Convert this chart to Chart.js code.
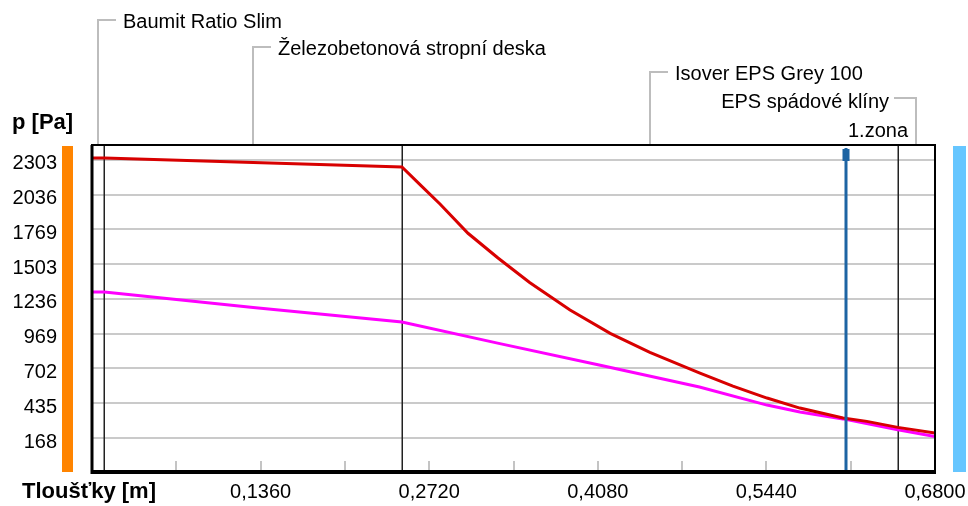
<!DOCTYPE html>
<html><head><meta charset="utf-8">
<script src="https://cdn.jsdelivr.net/npm/chart.js@4/dist/chart.umd.min.js"></script>
<style>html,body{margin:0;padding:0;background:#fff;overflow:hidden}#wrap{width:968px;height:506px;position:relative}</style>
</head><body><div id="wrap"><canvas id="c" width="968" height="506"></canvas></div>
<script>
// Layer boundaries [m] and layer names
const layerEdges = [0, 0.01, 0.25, 0.65, 0.68];
const layerNames = ['Baumit Ratio Slim', 'Železobetonová stropní deska', 'Isover EPS Grey 100', 'EPS spádové klíny'];
// Condensation zone markers
const zonePositions = [0.608];
const zoneNames = ['1.zona'];
// Axis ticks
const yTicks = [168, 435, 702, 969, 1236, 1503, 1769, 2036, 2303];
const xTicks = [0.068, 0.136, 0.204, 0.272, 0.34, 0.408, 0.476, 0.544, 0.612, 0.68];
const xLabelled = [0.136, 0.272, 0.408, 0.544, 0.68];
// Saturated vapour pressure [Pa]
const psX = [0, 0.01, 0.13, 0.25, 0.265, 0.2807, 0.3033, 0.3275, 0.353, 0.3856, 0.418, 0.45, 0.4904, 0.517, 0.5445, 0.571, 0.6058, 0.625, 0.65, 0.68];
const psY = [2318, 2318, 2283, 2249, 2110, 1965, 1740, 1550, 1362, 1151, 972, 826, 667, 567, 475, 398, 322, 296, 250, 206];
// Partial vapour pressure [Pa]
const pX = [0, 0.01, 0.13, 0.25, 0.329, 0.41, 0.49, 0.5445, 0.571, 0.6058, 0.65, 0.68];
const pY = [1289, 1289, 1170, 1059, 893, 727, 560, 421, 368, 315, 232, 180];

const FONT = '"Liberation Sans", Arial, sans-serif';
const toPts = (xs, ys) => xs.map((x, i) => ({ x, y: ys[i] }));

const decor = {
  id: 'decor',
  beforeDraw(chart) {
    const { ctx, chartArea: a } = chart;
    ctx.save();
    ctx.fillStyle = '#fff';
    ctx.fillRect(0, 0, chart.width, chart.height);
    // interior / exterior colour bars
    ctx.fillStyle = '#ff8400';
    ctx.fillRect(a.left - 30, a.top, 11, a.bottom - a.top + 1);
    ctx.fillStyle = '#66c6ff';
    ctx.fillRect(a.right + 18, a.top, 13, a.bottom - a.top + 1);
    ctx.restore();
  },
  beforeDatasetsDraw(chart) {
    const { ctx, chartArea: a, scales: { x } } = chart;
    ctx.save();
    // minor ticks along the bottom
    ctx.strokeStyle = '#c4c4c4';
    ctx.lineWidth = 2;
    xTicks.forEach(v => {
      const px = Math.round(x.getPixelForValue(v));
      ctx.beginPath(); ctx.moveTo(px, a.bottom - 10); ctx.lineTo(px, a.bottom); ctx.stroke();
    });
    // layer boundaries
    ctx.strokeStyle = '#222';
    ctx.lineWidth = 1.5;
    layerEdges.slice(1, -1).forEach(v => {
      const px = Math.round(x.getPixelForValue(v)) + 0.25;
      ctx.beginPath(); ctx.moveTo(px, a.top); ctx.lineTo(px, a.bottom); ctx.stroke();
    });
    ctx.restore();
  },
  afterDatasetsDraw(chart) {
    const { ctx, chartArea: a, scales: { x } } = chart;
    ctx.save();
    // condensation zone markers
    zonePositions.forEach((v, i) => {
      const px = Math.round(x.getPixelForValue(v));
      ctx.fillStyle = '#1d64a3';
      ctx.fillRect(px - 1.5, a.top + 2, 3, a.bottom - a.top - 2);
      ctx.fillRect(px - 3.5, a.top + 3, 7, 12);
      ctx.fillStyle = '#000';
      ctx.font = '20px ' + FONT;
      ctx.textAlign = 'left';
      ctx.textBaseline = 'middle';
      ctx.fillText(zoneNames[i], px + 2, a.top - 15);
    });
    // frame
    ctx.strokeStyle = '#000';
    ctx.lineWidth = 2;
    ctx.strokeRect(a.left, a.top - 1, a.right - a.left, a.bottom - a.top + 1);
    ctx.lineWidth = 3;
    ctx.beginPath();
    ctx.moveTo(a.left, a.top - 1); ctx.lineTo(a.left, a.bottom + 1.5);
    ctx.lineTo(a.right + 1, a.bottom + 1.5);
    ctx.stroke();
    // layer name leaders
    const levels = [20, 47, 72, 98];
    const sides = ['r', 'r', 'r', 'l'];
    ctx.font = '20px ' + FONT;
    ctx.textBaseline = 'middle';
    layerNames.forEach((name, i) => {
      const mid = Math.round(x.getPixelForValue((layerEdges[i] + layerEdges[i + 1]) / 2));
      const ly = levels[i];
      ctx.strokeStyle = '#bdbdbd';
      ctx.lineWidth = 2;
      ctx.beginPath();
      const end = sides[i] === 'r' ? mid + 18 : mid - 22;
      ctx.moveTo(end, ly); ctx.lineTo(mid, ly); ctx.lineTo(mid, a.top - 2);
      ctx.stroke();
      ctx.fillStyle = '#000';
      if (sides[i] === 'r') { ctx.textAlign = 'left'; ctx.fillText(name, end + 7, ly + 2); }
      else { ctx.textAlign = 'right'; ctx.fillText(name, end - 5, ly + 4); }
    });
    // axis titles
    ctx.font = 'bold 22px ' + FONT;
    ctx.textAlign = 'left';
    ctx.fillStyle = '#000';
    ctx.fillText('p [Pa]', 12, 123);
    ctx.fillText('Tloušťky [m]', 22, 492);
    ctx.restore();
  }
};

new Chart(document.getElementById('c'), {
  type: 'scatter',
  data: {
    datasets: [
      { label: 'ps', data: toPts(psX, psY), showLine: true, borderColor: '#d80000', borderWidth: 3, pointRadius: 0, order: 0 },
      { label: 'p', data: toPts(pX, pY), showLine: true, borderColor: '#ff00ff', borderWidth: 3, pointRadius: 0, order: 1 }
    ]
  },
  options: {
    responsive: false,
    animation: false,
    devicePixelRatio: 1,
    layout: { padding: { left: 0, top: 146, right: 33, bottom: 0 } },
    plugins: { legend: { display: false }, tooltip: { enabled: false } },
    scales: {
      x: {
        type: 'linear', min: 0, max: 0.68,
        afterBuildTicks: s => { s.ticks = xTicks.map(v => ({ value: v })); },
        afterFit: s => { s.height = 35; s.paddingLeft = 0; s.paddingRight = 0; },
        grid: { display: false, drawTicks: false },
        border: { display: false },
        ticks: {
          autoSkip: false, maxRotation: 0, padding: 9, color: '#000',
          font: { family: FONT, size: 20 },
          callback: v => xLabelled.includes(v) ? v.toFixed(4).replace('.', ',') : ''
        }
      },
      y: {
        type: 'linear', min: -85, max: 2410,
        afterBuildTicks: s => { s.ticks = yTicks.map(v => ({ value: v })); },
        afterFit: s => { s.width = 92; s.paddingTop = 0; s.paddingBottom = 0; },
        grid: { color: '#cacaca', lineWidth: 2, drawTicks: false },
        border: { display: false },
        ticks: {
          padding: 35, color: '#000', labelOffset: 4, font: { family: FONT, size: 20 },
          callback: v => String(v)
        }
      }
    }
  },
  plugins: [decor]
});
</script></body></html>
